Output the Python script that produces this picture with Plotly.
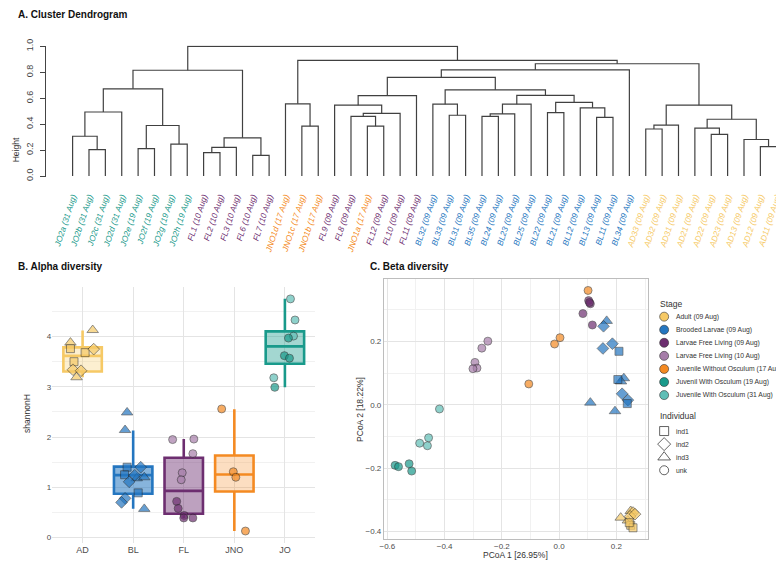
import plotly.graph_objects as go

W, H = 784, 563
OFF = 8  # page offset of the plot inside the browser window
FONT = "Liberation Sans, Arial, Helvetica, sans-serif"

# ---------------- categories ----------------
stages = ["Adult (09 Aug)", "Brooded Larvae (09 Aug)", "Larvae Free Living (09 Aug)",
          "Larvae Free Living (10 Aug)", "Juvenile Without Osculum (17 Aug)",
          "Juvenil With Osculum (19 Aug)", "Juvenile With Osculum (31 Aug)"]
stage_dates = ["09 Aug", "09 Aug", "09 Aug", "10 Aug", "17 Aug", "19 Aug", "31 Aug"]
stage_colors = ["#F6C965", "#2476C0", "#6D2E70", "#A67DA9", "#F48A22", "#199A8B", "#5FBEB6"]
stage_group = [0, 1, 2, 2, 3, 4, 4]

groups = ["AD", "BL", "FL", "JNO", "JO"]
group_colors = ["#F6C965", "#2476C0", "#6D2E70", "#F48A22", "#199A8B"]
group_fills = ["rgba(246,201,101,0.30)", "rgba(36,118,192,0.55)", "rgba(109,46,112,0.45)",
               "rgba(244,138,34,0.28)", "rgba(25,154,139,0.40)"]

individuals = ["ind1", "ind2", "ind3", "unk"]
ind_symbols = ["square", "diamond", "triangle-up", "circle"]
ind_sizes = [8, 9, 10, 8]

# ---------------- A. dendrogram ----------------
leaf_names = ["JO2a", "JO2b", "JO2c", "JO2d", "JO2e", "JO2f", "JO2g", "JO2h",
              "FL1", "FL2", "FL3", "FL6", "FL7", "JNO1d", "JNO1c", "JNO1b",
              "FL9", "FL8", "JNO1a", "FL12", "FL10", "FL11",
              "BL32", "BL33", "BL31", "BL35", "BL24", "BL23", "BL25", "BL22", "BL21",
              "BL12", "BL13", "BL11", "BL34",
              "AD33", "AD32", "AD31", "AD21", "AD22", "AD23", "AD13", "AD12", "AD11"]
leaf_stage = [6, 6, 6, 6, 5, 5, 5, 5,
              3, 3, 3, 3, 3, 4, 4, 4,
              2, 2, 4, 2, 2, 2,
              1, 1, 1, 1, 1, 1, 1, 1, 1,
              1, 1, 1, 1,
              0, 0, 0, 0, 0, 0, 0, 0, 0]
leaf_ind = [3] * 22 + [2, 2, 2, 2, 1, 1, 1, 1, 1, 0, 0, 0, 2,
                       2, 2, 2, 1, 1, 1, 0, 0, 0]

# merges: (left child, right child, height); str = leaf, int = earlier merge
merges = [
    ("JO2b", "JO2c", 0.204), ("JO2a", 0, 0.307), (1, "JO2d", 0.494),
    ("JO2e", "JO2f", 0.212), ("JO2g", "JO2h", 0.247), (3, 4, 0.390), (2, 5, 0.673),
    ("FL1", "FL2", 0.181), (7, "FL3", 0.222), ("FL6", "FL7", 0.159), (8, 9, 0.295),
    (6, 10, 0.816),
    ("JNO1c", "JNO1b", 0.385), ("JNO1d", 12, 0.557),
    ("JNO1a", "FL12", 0.385), ("FL8", 14, 0.461), (15, "FL10", 0.484),
    ("FL9", 16, 0.547), (17, "FL11", 0.620),
    ("BL33", "BL31", 0.469), ("BL32", 19, 0.554),
    ("BL35", "BL24", 0.461), (21, "BL23", 0.479), (22, "BL25", 0.554),
    ("BL22", "BL21", 0.489), ("BL13", "BL11", 0.453), ("BL12", 25, 0.526),
    (24, 26, 0.569), (23, 27, 0.622), (20, 28, 0.665), (18, 29, 0.761),
    (30, "BL34", 0.819),
    ("AD33", "AD32", 0.363), (32, "AD31", 0.393),
    ("AD22", "AD23", 0.322), ("AD21", 34, 0.370),
    ("AD12", "AD11", 0.227), ("AD13", 36, 0.282), (35, 37, 0.438), (33, 38, 0.547),
    (31, 39, 0.866), (13, 40, 0.892), (11, 41, 1.000),
]

# ---------------- B. alpha diversity ----------------
alpha_group = [0] * 9 + [1] * 13 + [2] * 10 + [3] * 4 + [4] * 8
alpha_stage = [0] * 9 + [1] * 13 + [3] * 5 + [2] * 5 + [4] * 4 + [6] * 4 + [5] * 4
alpha_ind = ([2, 2, 2, 0, 0, 0, 1, 1, 1] +
             [2, 2, 2, 2, 2, 0, 0, 0, 1, 1, 1, 1, 1] + [3] * 22)
alpha_value = [3.88, 4.13, 3.19, 3.76, 3.68, 3.50, 3.75, 3.34, 3.32,
               2.49, 2.14, 1.18, 1.20, 0.57, 1.40, 1.25, 0.89, 1.40, 1.11, 0.78, 0.70, 1.24,
               1.95, 1.96, 1.67, 1.29, 1.15, 0.72, 0.58, 0.44, 0.39, 0.39,
               2.56, 1.31, 1.20, 0.13,
               4.75, 4.33, 4.01, 3.18, 3.97, 3.62, 3.57, 2.99]
alpha_jitter = [-0.24, 0.20, -0.12, -0.24, 0.05, -0.17, 0.22, -0.19, -0.03,
                -0.12, -0.16, 0.07, 0.22, 0.22, -0.12, -0.17, 0.10, 0.15, -0.08, -0.16, -0.23, 0.03,
                -0.22, 0.20, 0.18, -0.03, -0.05, -0.14, -0.11, 0.01, 0.0, 0.18,
                -0.25, -0.02, 0.03, 0.22,
                0.11, 0.20, 0.17, -0.22, 0.07, -0.01, 0.09, -0.20]
box_q1 = [3.304, 0.872, 0.475, 0.917, 3.460]
box_med = [3.616, 1.242, 0.930, 1.255, 3.805]
box_q3 = [3.785, 1.411, 1.587, 1.633, 4.104]
box_lo = [3.19, 0.572, 0.39, 0.13, 2.99]
box_hi = [4.12, 2.133, 1.964, 2.556, 4.754]

# ---------------- C. beta diversity (PCoA, same order as leaf_names) ----------------
pcoa_x = [-0.418, -0.456, -0.487, -0.460, -0.524, -0.515, -0.573, -0.561,
          -0.249, -0.270, -0.294, -0.287, -0.301, 0.101, 0.003, -0.016,
          0.103, 0.109, -0.106, 0.106, 0.083, 0.116,
          0.166, 0.226, 0.216, 0.109, 0.155, 0.186, 0.153, 0.220, 0.240,
          0.209, 0.205, 0.238, 0.195,
          0.215, 0.250, 0.240, 0.258, 0.248, 0.265, 0.250, 0.258, 0.245]
pcoa_y = [-0.013, -0.104, -0.121, -0.129, -0.186, -0.209, -0.191, -0.195,
          0.201, 0.179, 0.134, 0.116, 0.114, 0.361, 0.212, 0.192,
          0.329, 0.319, 0.066, 0.323, 0.288, 0.252,
          0.265, 0.084, 0.074, 0.007, 0.248, 0.193, 0.178, 0.035, 0.015,
          0.169, 0.080, 0.004, -0.020,
          -0.356, -0.335, -0.365, -0.340, -0.352, -0.345, -0.380, -0.388, -0.372]


# ======================================================================
def px(xp):
    return (xp - OFF) / W


def py(yp):
    return 1 - (yp - OFF) / H


fig = go.Figure()

# dendrogram segments
leaf_pos = {n: i for i, n in enumerate(leaf_names)}
node_x, node_h = [], []
seg_x, seg_y = [], []


def child(c):
    if isinstance(c, str):
        return leaf_pos[c], 0.0
    return node_x[c], node_h[c]


for a, b, h in merges:
    xa, ha = child(a)
    xb, hb = child(b)
    seg_x += [xa, xa, xb, xb, None]
    seg_y += [ha, h, h, hb, None]
    node_x.append((xa + xb) / 2)
    node_h.append(h)

fig.add_trace(go.Scatter(x=seg_x, y=seg_y, mode="lines", xaxis="x", yaxis="y",
                         line=dict(color="#404040", width=1.2), hoverinfo="skip"))
fig.add_trace(go.Scatter(
    x=list(range(len(leaf_names))), y=[-0.05] * len(leaf_names), mode="markers",
    xaxis="x", yaxis="y", cliponaxis=False,
    marker=dict(symbol=[ind_symbols[i] for i in leaf_ind],
                size=[ind_sizes[i] for i in leaf_ind],
                color=[stage_colors[s] for s in leaf_stage],
                line=dict(color="#333333", width=0.6)),
    text=leaf_names, hoverinfo="text"))

tick_text = ["<i><span style='color:%s'>%s (%s)</span></i>" %
             (group_colors[stage_group[s]], n, stage_dates[s])
             for n, s in zip(leaf_names, leaf_stage)]

# B: boxes
for g in range(len(groups)):
    fig.add_trace(go.Box(
        x=[g + 1], q1=[box_q1[g]], median=[box_med[g]], q3=[box_q3[g]],
        lowerfence=[box_lo[g]], upperfence=[box_hi[g]], width=0.76,
        xaxis="x2", yaxis="y2", fillcolor=group_fills[g],
        line=dict(color=group_colors[g], width=2.6), whiskerwidth=0,
        boxpoints=False, hoverinfo="skip"))

fig.add_trace(go.Scatter(
    x=[g + 1 + j for g, j in zip(alpha_group, alpha_jitter)], y=alpha_value,
    mode="markers", xaxis="x2", yaxis="y2", cliponaxis=False,
    marker=dict(symbol=[ind_symbols[i] for i in alpha_ind],
                size=[ind_sizes[i] for i in alpha_ind],
                color=[stage_colors[s] for s in alpha_stage],
                line=dict(color="#222222", width=0.7))))

# C: PCoA
fig.add_trace(go.Scatter(
    x=pcoa_x, y=pcoa_y, mode="markers", xaxis="x3", yaxis="y3",
    marker=dict(symbol=[ind_symbols[i] for i in leaf_ind],
                size=[ind_sizes[i] for i in leaf_ind],
                color=[stage_colors[s] for s in leaf_stage],
                line=dict(color="#222222", width=0.7)),
    text=leaf_names, hoverinfo="text"))

# legend keys (hidden axis)
stage_rows = list(range(len(stages)))
ind_rows = [8.75 + j for j in range(len(individuals))]
fig.add_trace(go.Scatter(
    x=[0.107] * len(stages), y=stage_rows, mode="markers", xaxis="x4", yaxis="y4",
    cliponaxis=False,
    marker=dict(symbol="circle", size=9, color=stage_colors,
                line=dict(color="#333333", width=0.6))))
fig.add_trace(go.Scatter(
    x=[0.107] * len(individuals), y=ind_rows, mode="markers", xaxis="x4", yaxis="y4",
    cliponaxis=False,
    marker=dict(symbol=[s + "-open" for s in ind_symbols], size=[9, 10, 11, 9],
                color="#222222", line=dict(width=1))))

ann = []
for r, s in zip(stage_rows, stages):
    ann.append(dict(x=0.18, y=r, xref="x4", yref="y4", text=s, showarrow=False,
                    xanchor="left", yanchor="middle", font=dict(size=6.8, color="#333333")))
for r, s in zip(ind_rows, individuals):
    ann.append(dict(x=0.18, y=r, xref="x4", yref="y4", text=s, showarrow=False,
                    xanchor="left", yanchor="middle", font=dict(size=6.8, color="#333333")))
ann.append(dict(x=0.06, y=-1.0, xref="x4", yref="y4", text="Stage", showarrow=False,
                xanchor="left", yanchor="middle", font=dict(size=8.5, color="#333333")))
ann.append(dict(x=0.06, y=7.6, xref="x4", yref="y4", text="Individual", showarrow=False,
                xanchor="left", yanchor="middle", font=dict(size=8.5, color="#333333")))

# titles
for txt, xp, yp in [("A. Cluster Dendrogram", 12, 7), ("B. Alpha diversity", 12, 265),
                    ("C. Beta diversity", 366, 265)]:
    ann.append(dict(x=px(xp), y=py(yp), xref="paper", yref="paper", text="<b>%s</b>" % txt,
                    showarrow=False, xanchor="left", yanchor="middle",
                    font=dict(size=10, color="#111111")))
# axis titles
for txt, xp, yp, ang in [("Height", 12, 145, -90), ("shannonH", 23, 414, -90),
                         ("PCoA 2 [18.22%]", 358, 410, -90), ("PCoA 1 [26.95%]", 515, 558.5, 0)]:
    ann.append(dict(x=px(xp), y=py(yp), xref="paper", yref="paper", text=txt,
                    showarrow=False, xanchor="center", yanchor="middle", textangle=ang,
                    font=dict(size=8.5, color="#333333")))

grid_major = "#E4E4E4"
grid_minor = "#F1F1F1"

fig.update_layout(
    width=W, height=H, margin=dict(l=0, r=0, t=0, b=0),
    paper_bgcolor="white", plot_bgcolor="white", showlegend=False,
    font=dict(family=FONT, size=9, color="#333333"),
    annotations=ann,
    # A
    xaxis=dict(domain=[px(42.63), px(782.6)], range=[-1.6, 43.3], showgrid=False,
               zeroline=False, showline=False, tickmode="array",
               tickvals=list(range(len(leaf_names))), ticktext=tick_text,
               tickangle=-72, ticks="outside", ticklen=11, tickcolor="rgba(0,0,0,0)",
               tickfont=dict(size=8.3), anchor="y"),
    yaxis=dict(domain=[py(172.83), py(39.2)], range=[-0.004, 1.006], showgrid=False,
               zeroline=False, showline=True, linecolor="#444444", linewidth=1,
               tickmode="array", tickvals=[0, 0.2, 0.4, 0.6, 0.8, 1.0],
               ticktext=["0.0", "0.2", "0.4", "0.6", "0.8", "1.0"], tickangle=-90,
               ticks="outside", ticklen=5, tickcolor="#444444", ticklabelstandoff=4,
               tickfont=dict(size=9, color="#444444"), anchor="x"),
    # B
    xaxis2=dict(domain=[px(48.5), px(313.2)], range=[0.4, 5.6], tickmode="array",
                tickvals=[1, 2, 3, 4, 5], ticktext=groups, showgrid=True,
                gridcolor=grid_major, zeroline=False, showline=False, ticks="",
                tickfont=dict(size=9, color="#4D4D4D"), anchor="y2"),
    yaxis2=dict(domain=[py(546.1), py(285.5)], range=[-0.1, 4.985], tick0=0, dtick=1,
                showgrid=True, gridcolor=grid_major, zeroline=False, showline=False,
                ticks="", tickfont=dict(size=8, color="#4D4D4D"), anchor="x2",
                minor=dict(dtick=0.5, tick0=0, showgrid=True, gridcolor=grid_minor)),
    # C
    xaxis3=dict(domain=[px(382.3), px(647.7)], range=[-0.612, 0.309], tick0=0, dtick=0.2,
                tickformat=".1f", showgrid=True, gridcolor=grid_major, zeroline=False,
                showline=True, mirror=True, linecolor="#BDBDBD", linewidth=1,
                ticks="", tickfont=dict(size=8, color="#4D4D4D"), anchor="y3",
                minor=dict(dtick=0.1, tick0=0, showgrid=True, gridcolor=grid_minor)),
    yaxis3=dict(domain=[py(542), py(277)], range=[-0.422, 0.398], tick0=0, dtick=0.2,
                tickformat=".1f", showgrid=True, gridcolor=grid_major, zeroline=False,
                showline=True, mirror=True, linecolor="#BDBDBD", linewidth=1,
                ticks="", tickfont=dict(size=8, color="#4D4D4D"), anchor="x3",
                minor=dict(dtick=0.1, tick0=0, showgrid=True, gridcolor=grid_minor)),
    # legend area
    xaxis4=dict(domain=[px(650), px(784)], range=[0, 1], visible=False, anchor="y4"),
    yaxis4=dict(domain=[py(545), py(290)], range=[17.2, -1.925], visible=False, anchor="x4"),
)

fig.write_html("out.html")
